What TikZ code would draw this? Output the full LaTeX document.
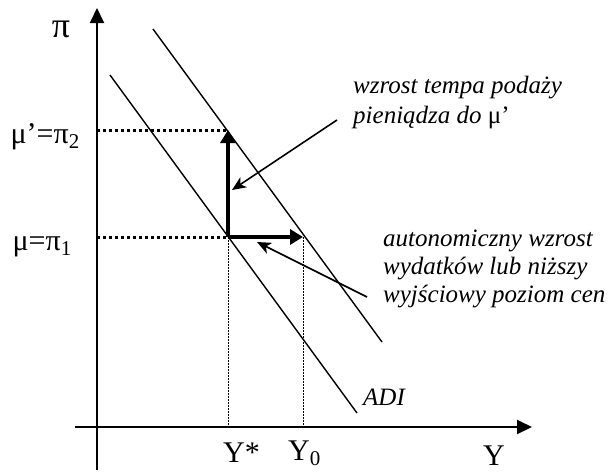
\documentclass[tikz,border=0pt]{standalone}
\usepackage{fontspec}
\setmainfont{Liberation Serif}
\usetikzlibrary{arrows.meta}
\begin{document}
\begin{tikzpicture}[x=1pt,y=-1pt,
  axis/.style={line width=2pt,-{Triangle[length=15pt,width=14pt]}},
  curve/.style={line width=1.4pt},
  movearrow/.style={line width=3.5pt,-{Triangle[length=13pt,width=15pt]}},
  notearrow/.style={line width=1.6pt,-{Stealth[length=14pt,width=12pt,inset=4pt]}},
  guide/.style={line width=3pt,dash pattern=on 3pt off 3pt},
  vguide/.style={line width=1pt,dash pattern=on 1.5pt off 1.5pt},
  lbl/.style={font=\fontsize{30}{32}\selectfont,inner sep=0pt},
  note/.style={font=\fontsize{25}{30}\selectfont\itshape,inner sep=0pt,align=left}]
\useasboundingbox (0,0) rectangle (608,472);
% axes
\coordinate (ybot) at (97,470);
\coordinate (ytop) at (97,8);
\coordinate (xleft) at (75,427);
\coordinate (xright) at (532,427);
\draw[axis] (ybot) -- (ytop);
\draw[axis] (xleft) -- (xright);
% curves
\coordinate (a1) at (110,75);
\coordinate (a2) at (357,413);
\coordinate (b1) at (153,29);
\coordinate (b2) at (382,342);
\draw[curve] (a1) -- (a2);
\draw[curve] (b1) -- (b2);
% key points
\coordinate (E) at (228,237);
\coordinate (F) at (228,130);
\coordinate (G) at (303,237);
\coordinate (L1) at (97,237);
\coordinate (L2) at (97,130);
\coordinate (Ystar) at (228,427);
\coordinate (Y0) at (303,427);
\draw[guide] (L2) -- (F);
\draw[guide] (L1) -- (E);
\draw[vguide] (E) -- (Ystar);
\draw[vguide] (G) -- (Y0);
\draw[movearrow] (E) -- (F);
\draw[movearrow] (E) -- (G);
% annotations
\coordinate (n1s) at (337,120);
\coordinate (n1e) at (232,190);
\coordinate (n2s) at (367,297);
\coordinate (n2e) at (257,242);
\draw[notearrow] (n1s) -- (n1e);
\draw[notearrow] (n2s) -- (n2e);
\node[note,anchor=base west] (t1) at (353,123) {wzrost tempa podaży\\pieniądza do {\upshape μ’}};
\node[note,anchor=base west,font=\fontsize{25}{28}\selectfont\itshape] (t2) at (383,302) {autonomiczny wzrost\\wydatków lub niższy\\wyjściowy poziom cen};
\node[note,anchor=base west] (adi) at (363,405) {ADI};
% labels
\node[lbl,anchor=base,font=\fontsize{36}{38}\selectfont] (pi) at (61,37) {π};
\node[lbl,anchor=base east] (mu2) at (80,143) {μ’=π\textsubscript{2}};
\node[lbl,anchor=base east] (mu1) at (72,250) {μ=π\textsubscript{1}};
\node[lbl,anchor=base west] (ys) at (223,462) {Y*};
\node[lbl,anchor=base west] (y0) at (288,460) {Y\textsubscript{0}};
\node[lbl,anchor=base west] (Y) at (483,465) {Y};
\end{tikzpicture}
\end{document}
